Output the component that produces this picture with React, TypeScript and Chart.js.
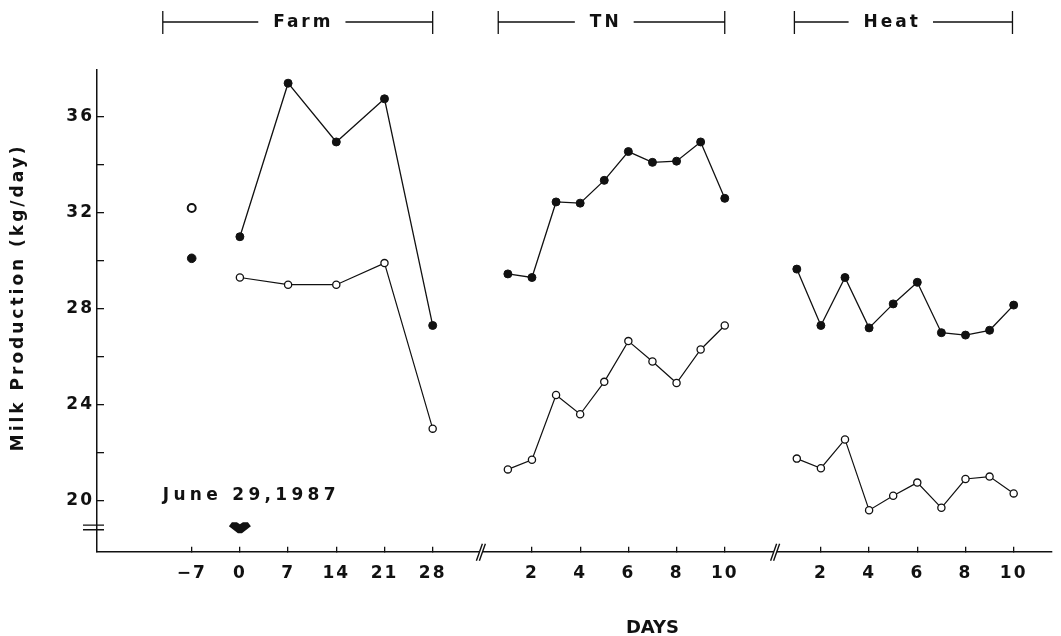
import { useEffect, useRef } from 'react';
import { Chart, registerables } from 'chart.js';

Chart.register(...registerables);

// ---------- data ----------
const FARM_PRE_DAYS = [-7];
const FARM_PRE_FILLED = [30.1];
const FARM_PRE_OPEN = [32.2];

const FARM_DAYS = [0, 7, 14, 21, 28];
const FARM_FILLED = [31.0, 37.4, 34.95, 36.75, 27.3];
const FARM_OPEN = [29.3, 29.0, 29.0, 29.9, 23.0];

const TN_DAYS = [1, 2, 3, 4, 5, 6, 7, 8, 9, 10];
const TN_FILLED = [29.45, 29.3, 32.45, 32.4, 33.35, 34.55, 34.1, 34.15, 34.95, 32.6];
const TN_OPEN = [21.3, 21.7, 24.4, 23.6, 24.95, 26.65, 25.8, 24.9, 26.3, 27.3];

const HEAT_DAYS = [1, 2, 3, 4, 5, 6, 7, 8, 9, 10];
const HEAT_FILLED = [29.65, 27.3, 29.3, 27.2, 28.2, 29.1, 27.0, 26.9, 27.1, 28.15];
const HEAT_OPEN = [21.75, 21.35, 22.55, 19.6, 20.2, 20.75, 19.7, 20.9, 21.0, 20.3];

const FARM_TICKS = [-7, 0, 7, 14, 21, 28];
const TN_TICKS = [2, 4, 6, 8, 10];
const HEAT_TICKS = [2, 4, 6, 8, 10];
const Y_TICKS = [20, 22, 24, 26, 28, 30, 32, 34, 36];
const Y_LABEL_EVERY = 4;

const SEGMENT_NAMES = ['Farm', 'TN', 'Heat'];
const FARM_SPAN = [-11.2, 28];
const TN_SPAN = [0.6, 10];
const HEAT_SPAN = [0.9, 9.95];
const SEGMENT_LABEL_DAYS = [9, 5, 4.9];
const DATE_NOTE = 'June 29,1987';
const DATE_DAY = 0;
const Y_TITLE = 'Milk Production (kg/day)';
const X_TITLE = 'DAYS';

// ---------- broken x axis: one linear scale, three segments ----------
const FARM_ORIGIN = 10;
const FARM_UNIT = 2 / 7;
const TN_ORIGIN = 20.12;
const HEAT_ORIGIN = 32.11;
const farmX = (d: number) => FARM_ORIGIN + d * FARM_UNIT;
const tnX = (d: number) => TN_ORIGIN + d;
const heatX = (d: number) => HEAT_ORIGIN + d;
const X_MIN = 4.07;
const X_MAX = 43.7;
const Y_MIN = 17.87;
const Y_MAX = 37.95;
const X_BREAKS = [TN_ORIGIN - 0.12, HEAT_ORIGIN + 0.1];
const Y_BREAK = 18.88;

const X_TICK_VALUES = [
  ...FARM_TICKS.map(farmX),
  ...TN_TICKS.map(tnX),
  ...HEAT_TICKS.map(heatX),
];
const X_TICK_LABELS = [
  ...FARM_TICKS.map((d) => (d < 0 ? '\u2212' + Math.abs(d) : String(d))),
  ...TN_TICKS.map(String),
  ...HEAT_TICKS.map(String),
];

const INK = '#111';
const FONT = 'DejaVu Sans';

const pts = (xs: number[], ys: number[], f: (d: number) => number) =>
  xs.map((d, i) => ({ x: f(d), y: ys[i] }));

const filledStyle = {
  showLine: true,
  borderColor: INK,
  borderWidth: 1.3,
  pointRadius: 4,
  pointBorderWidth: 1,
  pointBackgroundColor: INK,
  pointBorderColor: INK,
  tension: 0,
};
const openStyle = {
  showLine: true,
  borderColor: INK,
  borderWidth: 1.2,
  pointRadius: 3.6,
  pointBorderWidth: 1.3,
  pointBackgroundColor: '#fff',
  pointBorderColor: INK,
  tension: 0,
};

const decorPlugin = {
  id: 'decor',
  beforeDraw(chart: any) {
    chart.ctx.letterSpacing = '2px';
  },
  beforeDatasetsDraw(chart: any) {
    chart.ctx.letterSpacing = '0px';
  },
  afterDraw(chart: any) {
    const { ctx, chartArea } = chart;
    const xs = chart.scales.x;
    const ys = chart.scales.y;
    ctx.save();
    ctx.strokeStyle = INK;
    ctx.fillStyle = INK;
    ctx.lineWidth = 1.3;

    // segment brackets on top
    const spans = [
      [farmX(FARM_SPAN[0]), farmX(FARM_SPAN[1]), farmX(SEGMENT_LABEL_DAYS[0])],
      [tnX(TN_SPAN[0]), tnX(TN_SPAN[1]), tnX(SEGMENT_LABEL_DAYS[1])],
      [heatX(HEAT_SPAN[0]), heatX(HEAT_SPAN[1]), heatX(SEGMENT_LABEL_DAYS[2])],
    ];
    const hy = 22;
    ctx.font = `bold 17px "${FONT}"`;
    ctx.letterSpacing = '3px';
    ctx.textBaseline = 'middle';
    ctx.textAlign = 'left';
    spans.forEach(([a, b, c], i) => {
      const x1 = xs.getPixelForValue(a);
      const x2 = xs.getPixelForValue(b);
      const cx = xs.getPixelForValue(c);
      const name = SEGMENT_NAMES[i];
      const w = ctx.measureText(name).width - 3;
      const gap = 15;
      ctx.beginPath();
      ctx.moveTo(x1, hy);
      ctx.lineTo(cx - w / 2 - gap, hy);
      ctx.moveTo(cx + w / 2 + gap, hy);
      ctx.lineTo(x2, hy);
      ctx.moveTo(x1, hy - 11);
      ctx.lineTo(x1, hy + 12);
      ctx.moveTo(x2, hy - 11);
      ctx.lineTo(x2, hy + 12);
      ctx.stroke();
      ctx.fillText(name, cx - w / 2, hy + 1);
    });

    // date note and arrow
    const nx = xs.getPixelForValue(farmX(FARM_SPAN[0]));
    ctx.letterSpacing = '4.3px';
    ctx.fillText(DATE_NOTE, nx, ys.getPixelForValue(20.19));
    ctx.letterSpacing = '3px';
    const ax = xs.getPixelForValue(farmX(DATE_DAY));
    const at = chartArea.bottom - 29.5;
    ctx.beginPath();
    ctx.moveTo(ax - 11, at + 4);
    ctx.lineTo(ax - 8, at);
    ctx.lineTo(ax - 3, at);
    ctx.lineTo(ax, at + 2);
    ctx.lineTo(ax + 3, at);
    ctx.lineTo(ax + 8, at);
    ctx.lineTo(ax + 11, at + 4);
    ctx.lineTo(ax + 2, at + 11);
    ctx.lineTo(ax - 2, at + 11);
    ctx.closePath();
    ctx.fill();

    // y-axis title
    ctx.save();
    ctx.translate(19, (chartArea.top + chartArea.bottom) / 2 - 12);
    ctx.rotate(-Math.PI / 2);
    ctx.textAlign = 'center';
    ctx.fillText(Y_TITLE, 1.5, 0);
    ctx.restore();

    // x-axis title
    ctx.letterSpacing = '0px';
    ctx.font = `bold 18px "${FONT}"`;
    ctx.textAlign = 'center';
    ctx.fillText(X_TITLE, xs.getPixelForValue(tnX(7)), 628);

    // y-axis break
    const by = ys.getPixelForValue(Y_BREAK);
    ctx.lineWidth = 1.4;
    ctx.beginPath();
    ctx.moveTo(chartArea.left - 14, by - 2.3);
    ctx.lineTo(chartArea.left + 7, by - 2.3);
    ctx.moveTo(chartArea.left - 14, by + 2.3);
    ctx.lineTo(chartArea.left + 7, by + 2.3);
    ctx.stroke();

    // x-axis breaks
    X_BREAKS.forEach((v) => {
      const bx = xs.getPixelForValue(v);
      const b = chartArea.bottom;
      ctx.fillStyle = '#fff';
      ctx.beginPath();
      ctx.moveTo(bx - 4.5, b + 9);
      ctx.lineTo(bx + 1.5, b - 8);
      ctx.lineTo(bx + 4.5, b - 8);
      ctx.lineTo(bx - 1.5, b + 9);
      ctx.closePath();
      ctx.fill();
      ctx.beginPath();
      ctx.moveTo(bx - 4.5, b + 9);
      ctx.lineTo(bx + 1.5, b - 8);
      ctx.moveTo(bx - 1.5, b + 9);
      ctx.lineTo(bx + 4.5, b - 8);
      ctx.stroke();
    });
    ctx.restore();
  },
};

export default function App() {
  const ref = useRef<HTMLCanvasElement>(null);
  useEffect(() => {
    const chart = new Chart(ref.current as HTMLCanvasElement, {
      type: 'scatter',
      data: {
        datasets: [
          { ...filledStyle, showLine: false, pointRadius: 4.3, data: pts(FARM_PRE_DAYS, FARM_PRE_FILLED, farmX) },
          { ...openStyle, showLine: false, pointRadius: 4, pointBorderWidth: 2, data: pts(FARM_PRE_DAYS, FARM_PRE_OPEN, farmX) },
          { ...filledStyle, data: pts(FARM_DAYS, FARM_FILLED, farmX) },
          { ...openStyle, data: pts(FARM_DAYS, FARM_OPEN, farmX) },
          { ...filledStyle, data: pts(TN_DAYS, TN_FILLED, tnX) },
          { ...openStyle, data: pts(TN_DAYS, TN_OPEN, tnX) },
          { ...filledStyle, data: pts(HEAT_DAYS, HEAT_FILLED, heatX) },
          { ...openStyle, data: pts(HEAT_DAYS, HEAT_OPEN, heatX) },
        ],
      },
      options: {
        responsive: false,
        animation: false,
        events: [],
        layout: { padding: { left: 0, right: 9, top: 70, bottom: 636 - 551.7 - 40 } },
        plugins: { legend: { display: false }, tooltip: { enabled: false } },
        scales: {
          x: {
            type: 'linear',
            min: X_MIN,
            max: X_MAX,
            afterBuildTicks: (s: any) => {
              s.ticks = X_TICK_VALUES.map((value) => ({ value }));
            },
            afterFit: (s: any) => {
              s.height = 40;
            },
            grid: { drawOnChartArea: false, drawTicks: true, tickLength: -5, color: INK, lineWidth: 1.3 },
            border: { color: INK, width: 1.5 },
            ticks: {
              autoSkip: false,
              maxRotation: 0,
              minRotation: 0,
              color: INK,
              padding: 17,
              font: { family: FONT, weight: 'bold', size: 17 },
              callback: (_v: any, i: number) => X_TICK_LABELS[i],
            },
          },
          y: {
            type: 'linear',
            min: Y_MIN,
            max: Y_MAX,
            afterBuildTicks: (s: any) => {
              s.ticks = Y_TICKS.map((value) => ({ value }));
            },
            afterFit: (s: any) => {
              s.width = 97;
            },
            grid: { drawOnChartArea: false, drawTicks: true, tickLength: -7, color: INK, lineWidth: 1.3 },
            border: { color: INK, width: 1.5 },
            ticks: {
              color: INK,
              padding: 10,
              font: { family: FONT, weight: 'bold', size: 17 },
              callback: (v: any) => (Number(v) % Y_LABEL_EVERY === 0 ? String(v) : ''),
            },
          },
        },
      } as any,
      plugins: [decorPlugin],
    });
    return () => chart.destroy();
  }, []);
  return (
    <div style={{ position: 'absolute', left: 0, top: 0, width: 1061, height: 636, background: '#fff' }}>
      <canvas ref={ref} width={1061} height={636} style={{ display: 'block' }} />
    </div>
  );
}
